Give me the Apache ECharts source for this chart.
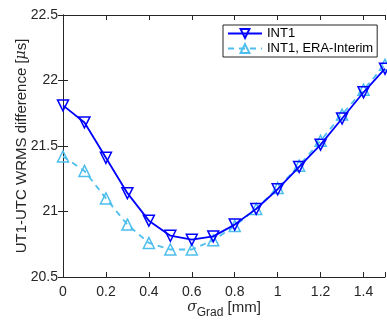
<!DOCTYPE html>
<html><head><meta charset="utf-8">
<script src="https://cdn.jsdelivr.net/npm/echarts@6/dist/echarts.min.js"></script>
<style>html,body{margin:0;padding:0;background:#fff}#c{width:387px;height:329px}</style>
</head><body><div id="c"></div>
<script>
const sigmaGrad = [0,0.1,0.2,0.3,0.4,0.5,0.6,0.7,0.8,0.9,1.0,1.1,1.2,1.3,1.4,1.5];
const int1 = [21.81,21.68,21.41,21.14,20.93,20.815,20.785,20.81,20.90,21.02,21.17,21.34,21.51,21.71,21.91,22.09];
const int1Era = [21.42,21.31,21.10,20.90,20.76,20.71,20.71,20.78,20.89,21.02,21.18,21.35,21.54,21.74,21.93,22.12];
const xTicks = [0,0.2,0.4,0.6,0.8,1,1.2,1.4];
const yTicks = [20.5,21,21.5,22,22.5];

const font = 'Liberation Sans, Arial, Helvetica, sans-serif';
const tc = '#262626';
const chart = echarts.init(document.getElementById('c'));
const axisCommon = {
  axisLine:{show:true,lineStyle:{color:tc,width:1}},
  axisTick:{show:true,inside:true,length:5,lineStyle:{color:tc}},
  splitLine:{show:false}
};
chart.setOption({
  animation:false,
  grid:{left:63,right:2,top:15,bottom:52,containLabel:false,outerBoundsMode:'none'},
  legend:{
    left:223, top:25, orient:'vertical', itemGap:2, itemWidth:34, itemHeight:11,
    padding:[2,4,2,4],
    backgroundColor:'#fff', borderColor:tc, borderWidth:1, borderRadius:0,
    textStyle:{fontFamily:font,fontSize:13,color:'#000'},
    data:['INT1','INT1, ERA-Interim']
  },
  xAxis:[
    Object.assign({type:'value',min:0,max:1.5,interval:0.2,position:'bottom',
      name:'{s|σ}{sub|Grad} {n|[mm]}', nameLocation:'middle', nameGap:23, nameMoveOverlap:false,
      nameTextStyle:{fontFamily:font,fontSize:15,color:tc,rich:{
        s:{fontFamily:'DejaVu Serif, serif',fontStyle:'italic',fontSize:14,color:tc,verticalAlign:'top'},
        sub:{fontFamily:font,fontSize:12,color:tc,verticalAlign:'bottom',padding:[7,0,0,0]},
        n:{fontFamily:font,fontSize:15,color:tc,verticalAlign:'top'}}},
      axisLabel:{fontFamily:font,fontSize:14,color:tc,margin:8,
        formatter:v=>xTicks.some(t=>Math.abs(t-v)<1e-9)?String(+v.toFixed(1)):''}
    },axisCommon),
    Object.assign({type:'value',min:0,max:1.5,interval:0.2,position:'top',axisLabel:{show:false}},axisCommon)
  ],
  yAxis:[
    Object.assign({type:'value',min:20.5,max:22.5,interval:0.5,position:'left',
      name:'UT1-UTC WRMS difference [{m|μ}s]', nameLocation:'middle', nameGap:34, nameMoveOverlap:false,
      nameTextStyle:{fontFamily:font,fontSize:15,color:tc,rich:{m:{fontFamily:'DejaVu Serif, serif',fontStyle:'italic',fontSize:14,color:tc}}},
      axisLabel:{fontFamily:font,fontSize:14,color:tc,margin:5,
        formatter:v=>{const t=yTicks.find(t=>Math.abs(t-v)<1e-9);return t===undefined?'':(Number.isInteger(t)?String(t):t.toFixed(1));}}
    },axisCommon),
    Object.assign({type:'value',min:20.5,max:22.5,interval:0.5,position:'right',axisLabel:{show:false}},axisCommon)
  ],
  series:[
    {name:'INT1',type:'line',data:sigmaGrad.map((x,i)=>[x,int1[i]]),
      symbol:'triangle',symbolRotate:180,symbolSize:11,showAllSymbol:true,
      lineStyle:{color:'#0000ff',width:1.8},
      itemStyle:{color:'#ffffff00',borderColor:'#0000ff',borderWidth:1.5},
      z:3},
    {name:'INT1, ERA-Interim',type:'line',data:sigmaGrad.map((x,i)=>[x,int1Era[i]]),
      symbol:'triangle',symbolSize:11,showAllSymbol:true,
      lineStyle:{color:'#4DBEEE',width:1.8,type:[6,5]},
      itemStyle:{color:'#ffffff00',borderColor:'#4DBEEE',borderWidth:1.5},
      z:2}
  ]
});
</script></body></html>
